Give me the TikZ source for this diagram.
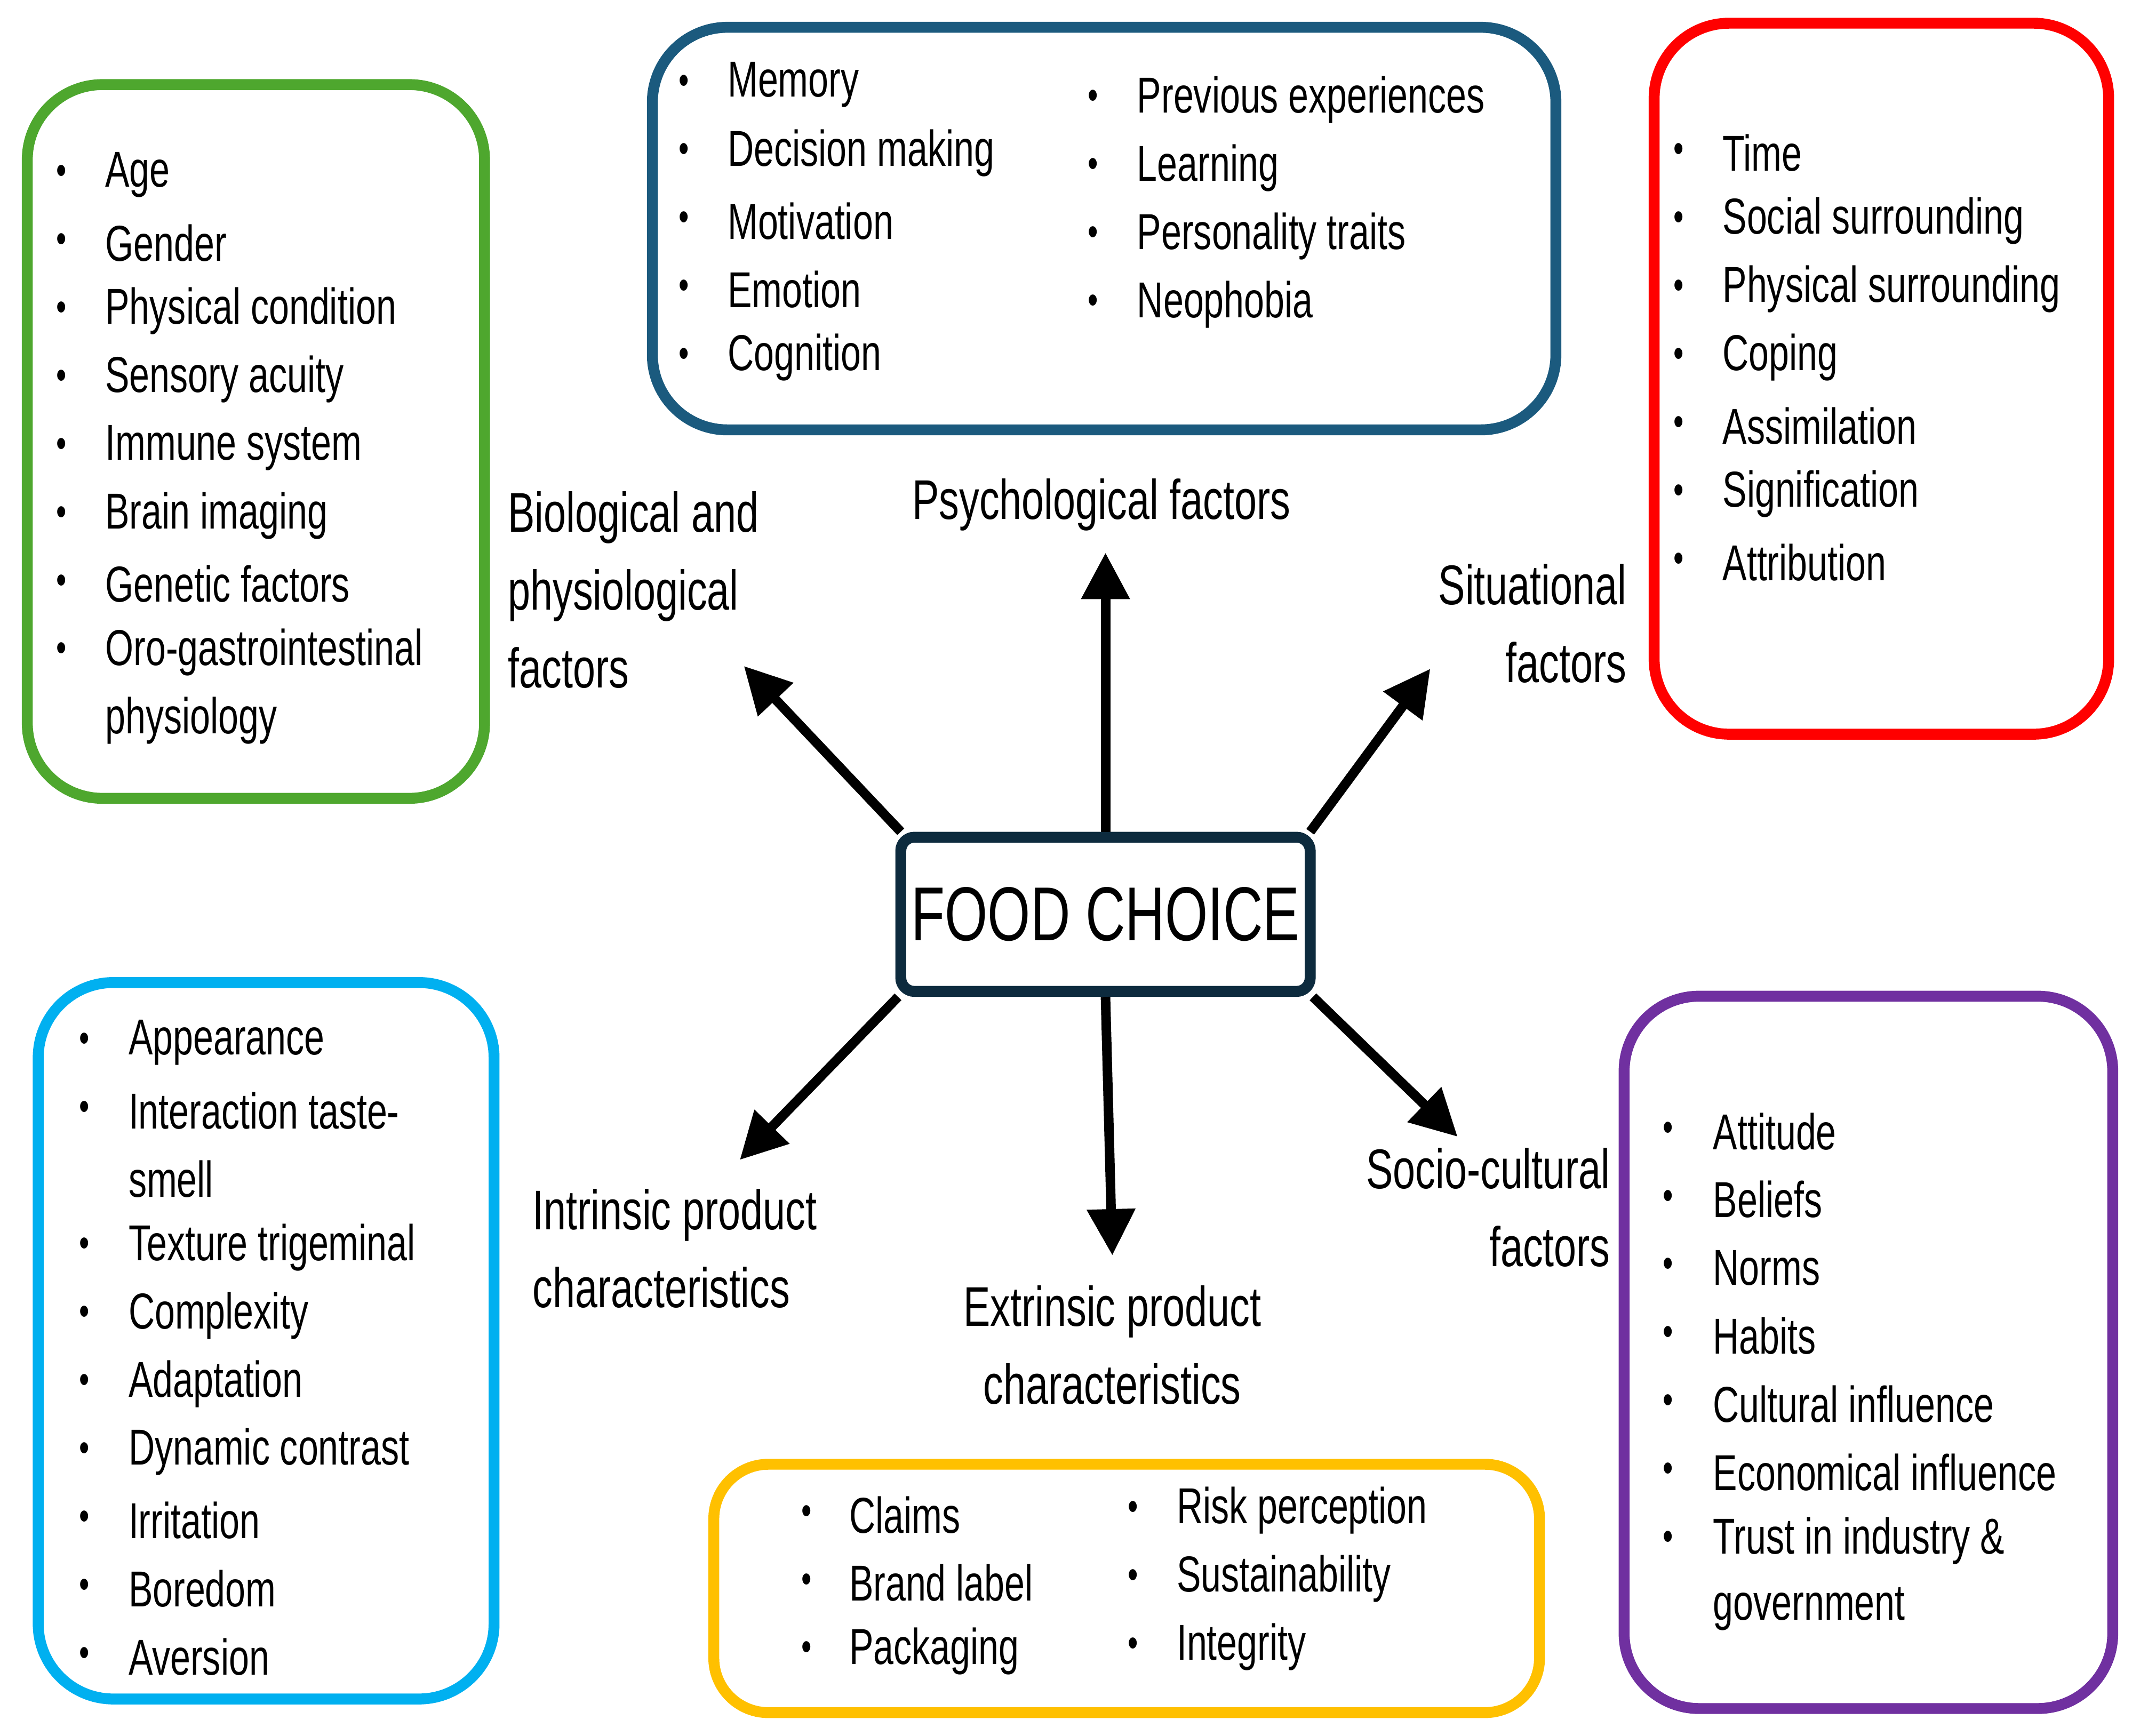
\documentclass[tikz,border=0pt]{standalone}
\usepackage{fontspec}
\setmainfont{Liberation Sans}[FakeStretch=0.72]
\usetikzlibrary{arrows.meta}
\definecolor{cgreen}{HTML}{4EA72E}
\definecolor{cblue}{HTML}{1B5A7E}
\definecolor{cred}{HTML}{FF0000}
\definecolor{ccyan}{HTML}{00B0F0}
\definecolor{cyel}{HTML}{FFC000}
\definecolor{cpurp}{HTML}{7030A0}
\definecolor{cdark}{HTML}{0D2B3E}
\tikzset{
 grp/.style={draw=#1,line width=8pt,rounded corners=55pt},
 itm/.style={anchor=west,inner sep=0pt,font=\fontsize{37}{44}\selectfont},
 bul/.style={anchor=center,inner sep=0pt,font=\fontsize{30}{30}\selectfont},
 lab/.style={inner sep=0pt,font=\fontsize{41}{57}\selectfont,align=#1},
 arr/.style={line width=7pt,-{Triangle[length=34pt,width=34pt]}},
}
\newcommand{\blist}[4]{% bulletx textx y0 items
 \foreach \t [count=\i from 0] in {#4}{
  \node[bul] at (#1,-#3-50*\i) {•};
  \node[itm] at (#2,-#3-50*\i) {\t};}}
\begin{document}
\begin{tikzpicture}[x=1pt,y=1pt]
\useasboundingbox (0,0) rectangle (1568,-1272);
\draw[grp=cgreen] (20,-62) rectangle (355,-585);
\draw[grp=cblue] (478,-20) rectangle (1140,-315);
\draw[grp=cred] (1212,-17) rectangle (1545,-538);
\draw[grp=ccyan] (28,-720) rectangle (362,-1245);
\draw[grp=cyel,rounded corners=40pt] (523,-1073) rectangle (1128,-1255);
\draw[grp=cpurp] (1190,-730) rectangle (1548,-1252);
\blist{45}{77}{128}{Age,Gender,Physical condition,Sensory acuity,Immune system,Brain imaging,Genetic factors,Oro-gastrointestinal}
\node[itm] (g9) at (77,-528) {physiology};
\blist{501}{533}{62}{Memory,Decision making,Motivation,Emotion,Cognition}
\blist{801}{833}{73}{Previous experiences,Learning,Personality traits,Neophobia}
\blist{1230}{1262}{112}{Time,Social surrounding,Physical surrounding,Coping,Assimilation,Signification,Attribution}
\blist{62}{94}{764}{Appearance,Interaction taste-}
\node[itm] (c3) at (94,-864) {smell};
\blist{62}{94}{914}{Texture trigeminal,Complexity,Adaptation,Dynamic contrast,Irritation,Boredom,Aversion}
\blist{591}{622}{1110}{Claims,Brand label,Packaging}
\blist{830}{862}{1107}{Risk perception,Sustainability,Integrity}
\blist{1222}{1255}{829}{Attitude,Beliefs,Norms,Habits,Cultural influence,Economical influence,Trust in industry \&}
\node[itm] (p8) at (1255,-1179) {government};
\node[draw=cdark,line width=8pt,rounded corners=10pt,minimum width=300pt,minimum height=113pt,inner sep=0pt,font=\fontsize{56}{60}\selectfont] (fc) at (810,-670) {FOOD CHOICE};
\coordinate (tU) at (810,-405);
\coordinate (tNW) at (545,-488);
\coordinate (tNE) at (1048,-490);
\coordinate (tSW) at (542,-850);
\coordinate (tS) at (815,-920);
\coordinate (tSE) at (1068,-833);
\draw[arr] (fc.north) -- (tU);
\draw[arr] (fc.north west) ++(4,0) -- (tNW);
\draw[arr] (fc.north east) ++(-4,0) -- (tNE);
\draw[arr] (fc.south west) ++(2,0) -- (tSW);
\draw[arr] (fc.south) -- (tS);
\draw[arr] (fc.south east) ++(-2,0) -- (tSE);
\node[lab=left,anchor=north west] (l1) at (372,-360) {Biological and\\physiological\\factors};
\node[lab=center] (l2) at (807,-370) {Psychological factors};
\node[lab=right,anchor=north east] (l3) at (1192,-413) {Situational\\factors};
\node[lab=left,anchor=north west] (l4) at (390,-871) {Intrinsic product\\characteristics};
\node[lab=center,anchor=north] (l5) at (815,-942) {Extrinsic product\\characteristics};
\node[lab=right,anchor=north east] (l6) at (1180,-841) {Socio-cultural\\factors};
\end{tikzpicture}
\end{document}
